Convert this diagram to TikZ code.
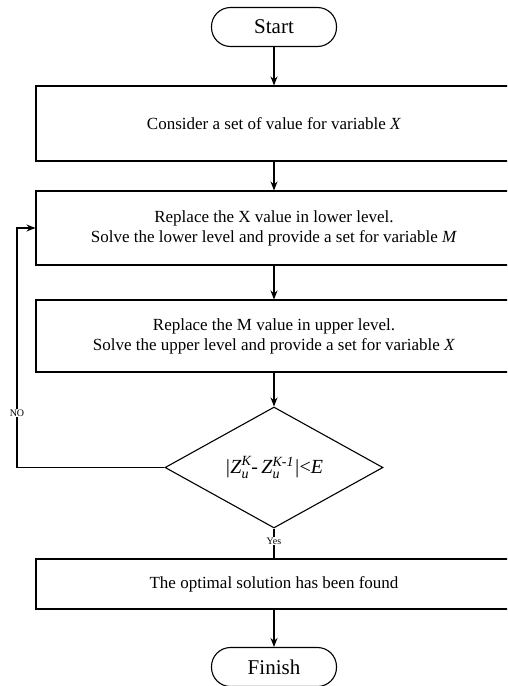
\documentclass[tikz,border=0pt]{standalone}
\usepackage{amsmath}
\usepackage{fontspec}
\setmainfont{Liberation Serif}
\usetikzlibrary{shapes.geometric,arrows.meta}
\newcommand{\iv}[1]{\textit{#1}}
\begin{document}
\begin{tikzpicture}[x=1pt,y=-1pt,line width=1.1pt,
  >={Stealth[length=9pt,width=7pt]},
  every node/.style={font=\fontsize{17}{20}\selectfont},
  proc/.style={draw,rectangle,minimum width=476pt,inner sep=0pt,align=center},
  term/.style={draw,rectangle,rounded corners=19pt,minimum width=125pt,minimum height=39pt,inner sep=0pt,font=\fontsize{21}{24}\selectfont},
  dec/.style={draw,diamond,aspect=1.8,minimum width=218pt,minimum height=121pt,inner sep=0pt},
  small/.style={font=\fontsize{10}{11}\selectfont,fill=white,inner sep=1pt}]
\useasboundingbox (0,0) rectangle (507,686);
\clip (0,0) rectangle (507,686);
\node[term] (start) at (274,27) {Start};
\node[proc,minimum height=75pt] (b1) at (274,123.5) {\raisebox{-3pt}{Consider a set of value for variable \iv{X}}};
\node[proc,minimum height=74pt] (b2) at (274,228) {Replace the X value in lower level.\\ Solve the lower level and provide a set for variable \iv{M}};
\node[proc,minimum height=72pt] (b3) at (274,336) {Replace the M value in upper level.\\ Solve the upper level and provide a set for variable \iv{X}};
\node[dec] (dec) at (274,467.5) {\fontsize{20}{22}\selectfont $\textit{|Z}_{\textit{u}}^{\textit{K}}\text{-}\,\textit{Z}_{\textit{u}}^{\textit{K-1}}\textit{|}\text{<}\textit{E}$};
\node[proc,minimum height=50pt] (b4) at (274,584) {The optimal solution has been found};
\node[term] (finish) at (274,667) {Finish};
\coordinate (lp) at (17,467.5);
\draw[->] (start) -- (b1);
\draw[->] (b1) -- (b2);
\draw[->] (b2) -- (b3);
\draw[->] (b3) -- (dec);
\draw (dec.south) -- (b4.north);
\node[small] (yes) at (274,541) {Yes};
\draw[->] (b4) -- (finish);
\draw[->] (dec.west) -- (lp) |- (b2.west);
\node[small] (no) at (17,413) {NO};
\end{tikzpicture}
\end{document}
